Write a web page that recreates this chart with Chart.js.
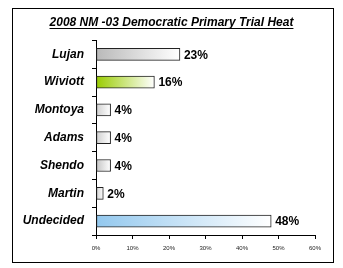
<!DOCTYPE html>
<html>
<head>
<meta charset="utf-8">
<script src="https://cdn.jsdelivr.net/npm/chart.js@4/dist/chart.umd.min.js"></script>
<style>
html,body{margin:0;padding:0;background:#fff;}
#wrap{position:absolute;left:0;top:0;width:343px;height:268px;}
#frame{position:absolute;left:12px;top:8px;width:320px;height:253px;border:1px solid #000;pointer-events:none;}
canvas{position:absolute;left:0;top:0;}
</style>
</head>
<body>
<div id="wrap"><canvas id="c" width="343" height="268"></canvas></div>
<div id="frame"></div>
<script>
const titleText = "2008 NM -03 Democratic Primary Trial Heat";
const categories = ["Lujan", "Wiviott", "Montoya", "Adams", "Shendo", "Martin", "Undecided"];
const values = [23, 16, 4, 4, 4, 2, 48];
const barStartColors = ["#b9b9b9", "#99cc00", "#cfcfcf", "#cfcfcf", "#c4c4c4", "#cfcfcf", "#93c8ee"];
const xTicks = [0, 10, 20, 30, 40, 50, 60];

const FONT = "Arial, 'Liberation Sans', sans-serif";

const valueLabels = {
  id: 'valueLabels',
  afterDatasetsDraw(chart) {
    const ctx = chart.ctx;
    const meta = chart.getDatasetMeta(0);
    ctx.save();
    ctx.font = "bold 12px " + FONT;
    ctx.fillStyle = "#000";
    ctx.textAlign = "left";
    ctx.textBaseline = "middle";
    meta.data.forEach((el, i) => {
      ctx.fillText(values[i] + "%", el.x + 4, el.y + 1);
    });
    ctx.restore();
  }
};

const centerTitle = {
  id: 'centerTitle',
  afterLayout(chart) {
    const tb = chart.titleBlock;
    if (!tb) return;
    tb.left = 0;
    tb.right = chart.width;
    tb.width = chart.width;
  }
};

const underline = {
  id: 'underline',
  afterDraw(chart) {
    const tb = chart.titleBlock;
    if (!tb) return;
    const ctx = chart.ctx;
    ctx.save();
    ctx.font = "italic bold 12px " + FONT;
    const w = ctx.measureText(titleText).width;
    const cx = (tb.left + tb.right) / 2;
    const y = tb.top + tb.height - tb.options.padding.bottom;
    ctx.strokeStyle = "#000";
    ctx.lineWidth = 1;
    ctx.beginPath();
    ctx.moveTo(cx - w / 2, Math.round(y) - 0.5);
    ctx.lineTo(cx + w / 2, Math.round(y) - 0.5);
    ctx.stroke();
    ctx.restore();
  }
};

new Chart(document.getElementById('c'), {
  type: 'bar',
  data: {
    labels: categories,
    datasets: [{
      data: values,
      barThickness: 12,
      borderWidth: 1,
      borderColor: "#222",
      borderSkipped: false,
      backgroundColor: (c) => {
        const chart = c.chart;
        if (!chart.chartArea || c.raw === undefined) return barStartColors[c.dataIndex] || "#ccc";
        const xs = chart.scales.x;
        const x0 = xs.getPixelForValue(0);
        const x1 = xs.getPixelForValue(c.raw);
        const g = chart.ctx.createLinearGradient(x0, 0, Math.max(x1, x0 + 1), 0);
        g.addColorStop(0, barStartColors[c.dataIndex]);
        g.addColorStop(1, "#ffffff");
        return g;
      }
    }]
  },
  options: {
    indexAxis: 'y',
    responsive: false,
    animation: false,
    devicePixelRatio: 1,
    layout: { padding: { left: 0, right: 28, top: 0, bottom: 0 } },
    plugins: {
      legend: { display: false },
      tooltip: { enabled: false },
      title: {
        display: true,
        text: titleText,
        color: "#000",
        font: { family: FONT, size: 12, weight: 'bold', style: 'italic' },
        padding: { top: 15, bottom: 11 }
      }
    },
    scales: {
      x: {
        min: 0, max: 60,
        afterBuildTicks: (s) => { s.ticks = xTicks.map(v => ({ value: v })); },
        afterFit: (s) => { s.height = 33; },
        ticks: {
          callback: (v) => v + "%",
          font: { family: FONT, size: 6 },
          color: "#222",
          padding: 6,
          maxRotation: 0
        },
        grid: { drawOnChartArea: false, drawTicks: true, tickLength: 4, color: "#000" },
        border: { color: "#000", width: 1 }
      },
      y: {
        afterFit: (s) => { s.width = 96; },
        ticks: {
          font: { family: FONT, size: 12, weight: 'bold', style: 'italic' },
          color: "#000",
          padding: 8
        },
        grid: { drawOnChartArea: false, drawTicks: true, tickLength: 4, offset: true, color: "#000" },
        border: { color: "#000", width: 1 }
      }
    }
  },
  plugins: [centerTitle, valueLabels, underline]
});
</script>
</body>
</html>
